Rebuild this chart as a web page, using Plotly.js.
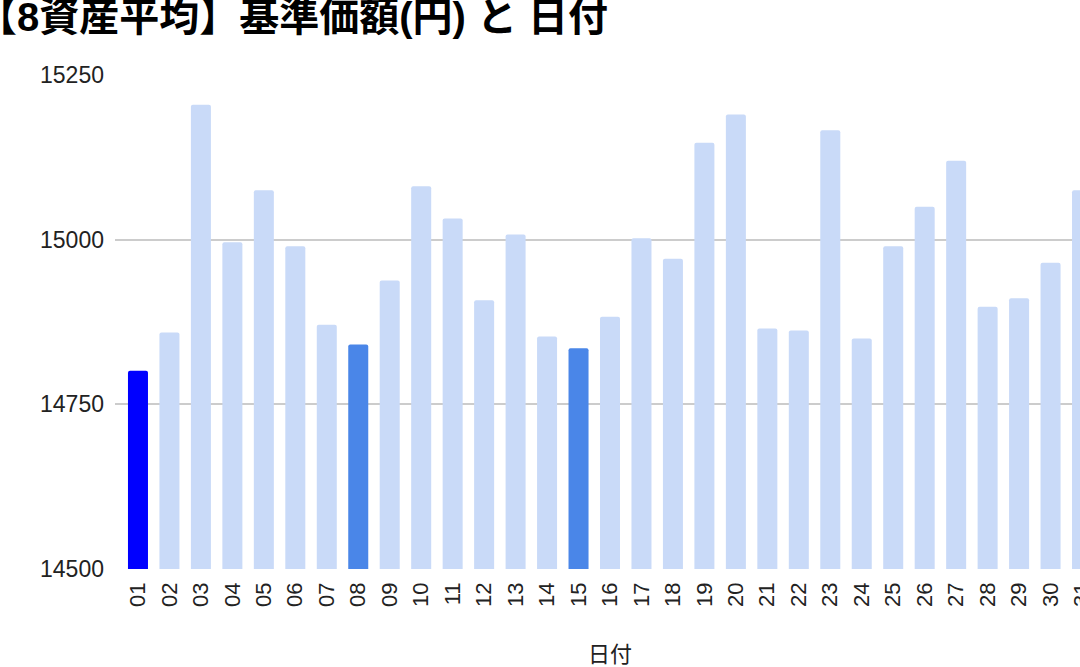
<!DOCTYPE html>
<html>
<head>
<meta charset="utf-8">
<script src="https://cdn.plot.ly/plotly-3.0.1.min.js"></script>
<style>
  html, body { margin: 0; padding: 0; overflow: hidden; background: #fff; width: 1080px; height: 667px; }
  #chart { position: absolute; left: -40px; top: 0; width: 1150px; height: 667px; }
</style>
</head>
<body>
<div id="chart"></div>
<script>
const days = ['01','02','03','04','05','06','07','08','09','10','11','12','13','14','15','16','17','18','19','20','21','22','23','24','25','26','27','28','29','30','31'];
const navValues = [14801, 14859, 15205, 14996, 15075, 14990, 14871, 14841, 14938, 15081, 15032, 14908, 15008, 14853, 14835, 14883, 15002, 14971, 15147, 15190, 14865, 14862, 15166, 14850, 14990, 15050, 15120, 14898, 14911, 14965, 15075];
const yTicks = [14500, 14750, 15000, 15250];
const chartTitle = '【8資産平均】基準価額(円) と 日付';
const xTitle = '日付';
const yTitle = '基準価額(円)';
const firstDay = '01';
const markedDays = ['08', '15'];

const barColors = days.map(d => d === firstDay ? '#0000ff' : (markedDays.includes(d) ? '#4a86e8' : '#c9daf8'));

const FONT = '"Liberation Sans", Arial, "Noto Sans CJK JP", sans-serif';
const W = 1150, H = 667;

const trace = {
  type: 'bar',
  x: days,
  y: navValues,
  marker: { color: barColors, cornerradius: 2, line: { width: 0 } },
  hoverinfo: 'x+y'
};

const layout = {
  width: W,
  height: H,
  margin: { l: 155, r: 5, t: 75, b: 98, pad: 0 },
  paper_bgcolor: '#ffffff',
  plot_bgcolor: '#ffffff',
  showlegend: false,
  bargap: 0.364,
  font: { family: FONT, color: '#222222' },
  title: {
    text: chartTitle,
    font: { family: FONT, size: 40, color: '#000000', weight: 'bold' },
    xref: 'container', yref: 'container',
    x: 17 / W, xanchor: 'left',
    y: 1 - 17 / H, yanchor: 'middle'
  },
  xaxis: {
    type: 'category',
    range: [-0.73, 30.73],
    tickangle: -90,
    tickfont: { family: FONT, size: 22, color: '#222222' },
    ticks: '',
    ticklabelstandoff: 8,
    showgrid: false,
    zeroline: false,
    showline: false,
    fixedrange: true,
    title: { text: xTitle, font: { family: FONT, size: 22, color: '#222222' }, standoff: 42 }
  },
  yaxis: {
    range: [14500, 15250],
    tickvals: yTicks,
    ticktext: yTicks.map(String),
    tickfont: { family: FONT, size: 23, color: '#222222' },
    ticks: '',
    ticklabelstandoff: 10,
    showgrid: true,
    gridcolor: '#cccccc',
    gridwidth: 2,
    zeroline: false,
    showline: false,
    fixedrange: true
  },
  annotations: [{
    text: yTitle,
    xref: 'paper', yref: 'paper',
    x: -0.1323, y: 0.5,
    xanchor: 'center', yanchor: 'middle',
    textangle: -90,
    showarrow: false,
    font: { family: FONT, size: 22, color: '#222222' }
  }]
};

Plotly.newPlot('chart', [trace], layout, { displayModeBar: false, staticPlot: true });
</script>
</body>
</html>
